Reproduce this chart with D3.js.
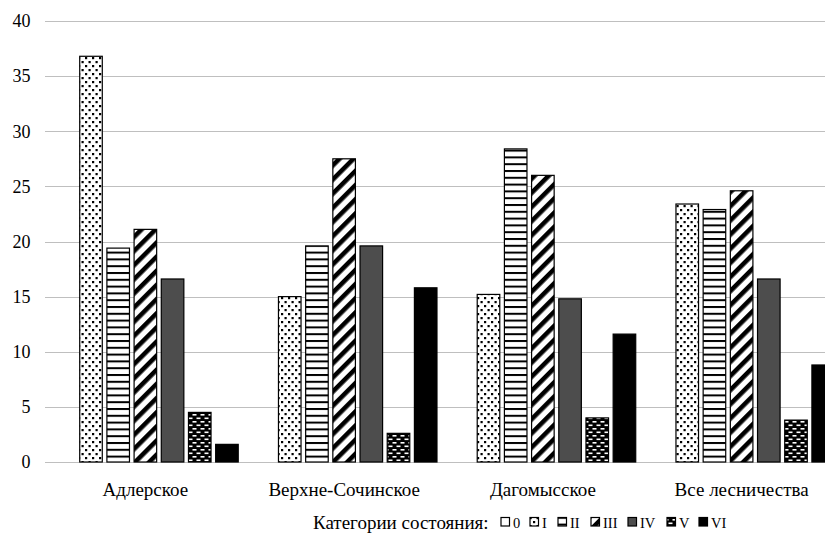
<!DOCTYPE html>
<html>
<head>
<meta charset="utf-8">
<script src="https://cdn.jsdelivr.net/npm/d3@7"></script>
<style>
  html, body { margin: 0; padding: 0; background: #fff; }
  svg { display: block; }
</style>
</head>
<body>
<svg id="chart" width="825" height="536"></svg>
<script>
// Forest districts (x-axis groups)
const districts = ["Адлерское", "Верхне-Сочинское", "Дагомысское", "Все лесничества"];
// Condition categories (series)
const categories = ["0", "I", "II", "III", "IV", "V", "VI"];
// Share of trees per condition category, %, one array per category
const cat0   = [0, 0, 0, 0];
const catI   = [36.8, 15.0, 15.2, 23.4];
const catII  = [19.4, 19.6, 28.4, 22.9];
const catIII = [21.1, 27.5, 26.0, 24.6];
const catIV  = [16.6, 19.6, 14.8, 16.6];
const catV   = [4.5, 2.6, 4.0, 3.8];
const catVI  = [1.6, 15.8, 11.6, 8.8];
const yTicks = [0, 5, 10, 15, 20, 25, 30, 35, 40];
const legendTitle = "Категории состояния:";

const seriesValues = [cat0, catI, catII, catIII, catIV, catV, catVI];
const FONT = '"Liberation Serif", "Times New Roman", serif';

const svg = d3.select("#chart");
const defs = svg.append("defs");

// Fill patterns for the categories
function pattern(id, w, h, build, transform) {
  const p = defs.append("pattern")
    .attr("id", id).attr("patternUnits", "userSpaceOnUse")
    .attr("width", w).attr("height", h);
  if (transform) p.attr("patternTransform", transform);
  build(p);
}
// I: dotted
pattern("p-I", 7, 8, p => {
  p.append("rect").attr("width", 7).attr("height", 8).attr("fill", "#fff");
  p.append("rect").attr("x", 1).attr("y", 1).attr("width", 2.2).attr("height", 2.2).attr("fill", "#000");
  p.append("rect").attr("x", 4.5).attr("y", 5).attr("width", 2.2).attr("height", 2.2).attr("fill", "#000");
});
// II: horizontal stripes
pattern("p-II", 8, 6.8, p => {
  p.append("rect").attr("width", 8).attr("height", 6.8).attr("fill", "#fff");
  p.append("rect").attr("y", 0).attr("width", 8).attr("height", 2).attr("fill", "#000");
});
// III: wide upward diagonal
pattern("p-III", 10, 10, p => {
  p.append("rect").attr("width", 10).attr("height", 10).attr("fill", "#fff");
  p.append("rect").attr("x", 0).attr("width", 4.6).attr("height", 10).attr("fill", "#000");
}, "rotate(45)");
// V: black with white dashes
pattern("p-V", 8, 7, p => {
  p.append("rect").attr("width", 8).attr("height", 7).attr("fill", "#000");
  p.append("rect").attr("x", 0.5).attr("y", 1).attr("width", 4).attr("height", 1.6).attr("fill", "#fff");
  p.append("rect").attr("x", 4.5).attr("y", 4.5).attr("width", 4).attr("height", 1.6).attr("fill", "#fff");
  p.append("rect").attr("x", -3.5).attr("y", 4.5).attr("width", 4).attr("height", 1.6).attr("fill", "#fff");
});

const fills = {
  "0": "#fff",
  "I": "url(#p-I)",
  "II": "url(#p-II)",
  "III": "url(#p-III)",
  "IV": "#4d4d4d",
  "V": "url(#p-V)",
  "VI": "#000"
};

const plotLeft = 45, plotRight = 825;
const x0 = d3.scaleBand().domain(districts).range([46, 841]).padding(0);
const x1 = d3.scaleBand().domain(categories).range([0, x0.bandwidth()])
  .paddingInner(0.17).paddingOuter(0.24);
const y = d3.scaleLinear().domain([0, 40]).range([462, 21]);

// Horizontal gridlines
svg.append("g").selectAll("line").data(yTicks).join("line")
  .attr("x1", plotLeft).attr("x2", plotRight)
  .attr("y1", d => Math.round(y(d)) + 0.5).attr("y2", d => Math.round(y(d)) + 0.5)
  .attr("stroke", "#bfbfbf").attr("stroke-width", 1);

// Y axis labels
const yAxis = d3.axisLeft(y).tickValues(yTicks).tickSize(0).tickPadding(0).tickFormat(d3.format("d"));
const gy = svg.append("g").attr("transform", "translate(30.5,0)").call(yAxis);
gy.select(".domain").remove();
gy.selectAll("text").style("font-family", FONT).style("font-size", "18px").attr("fill", "#000");

// Bars
const rows = [];
districts.forEach((d, i) => {
  categories.forEach((c, j) => {
    rows.push({ district: d, cat: c, value: seriesValues[j][i] });
  });
});
svg.append("g").selectAll("rect").data(rows.filter(r => r.value > 0)).join("rect")
  .attr("x", r => x0(r.district) + x1(r.cat))
  .attr("y", r => y(r.value))
  .attr("width", x1.bandwidth())
  .attr("height", r => y(0) - y(r.value))
  .attr("fill", r => fills[r.cat])
  .attr("stroke", "#000")
  .attr("stroke-width", 1.2);

// Category axis labels
const xAxis = d3.axisBottom(x0).tickSize(0).tickPadding(0);
const gx = svg.append("g").attr("transform", "translate(0,482)").call(xAxis);
gx.select(".domain").remove();
gx.selectAll("text").style("font-family", FONT).style("font-size", "19px").attr("fill", "#000");

// Legend
const legend = svg.append("g");
legend.append("text").attr("x", 313).attr("y", 529)
  .style("font-family", FONT).style("font-size", "19px").attr("fill", "#000").text(legendTitle);
const legendX = [501, 530, 558, 591, 628, 667, 699];
categories.forEach((c, j) => {
  legend.append("rect")
    .attr("x", legendX[j]).attr("y", 517.5).attr("width", 8.5).attr("height", 8.5)
    .attr("fill", fills[c]).attr("stroke", "#000").attr("stroke-width", 1.2);
  legend.append("text").attr("x", legendX[j] + 12).attr("y", 527.5)
    .style("font-family", FONT).style("font-size", "14.5px").attr("fill", "#000").text(c);
});
</script>
</body>
</html>
